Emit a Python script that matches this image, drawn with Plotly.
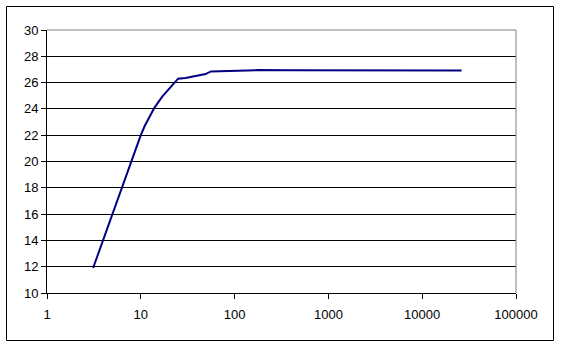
import plotly.graph_objects as go

x_vals = [3.1, 4, 5, 6, 7, 8, 9, 10, 11, 12, 14, 17, 21, 25, 30, 35, 42, 49, 56, 70, 90,
          180, 400, 1000, 2000, 3000, 5000, 8000, 12000, 18000, 26300]
y_vals = [11.9, 14.1, 16.1, 17.7, 19.0, 20.2, 21.2, 22.0, 22.7, 23.25, 24.1, 24.95, 25.7, 26.3,
          26.35, 26.45, 26.55, 26.65, 26.85, 26.88, 26.9, 26.95, 26.93, 26.93, 26.95, 26.96,
          26.97, 26.95, 26.97, 26.95, 26.92]
x_ticks = [1, 10, 100, 1000, 10000, 100000]
x_tick_text = ["1", "10", "100", "1000", "10000", "100000"]
y_ticks = [10, 12, 14, 16, 18, 20, 22, 24, 26, 28, 30]

W, H = 561, 347
L, R, T, B = 47, 45, 30, 54
pw, ph = W - L - R, H - T - B

def px(xpix):
    return (xpix - L) / pw

def py(ypix):
    return (H - B - ypix) / ph

fig = go.Figure()
fig.add_trace(go.Scatter(x=x_vals, y=y_vals, mode="lines",
                         line=dict(color="#000080", width=2), hoverinfo="skip"))

font = dict(family="Liberation Sans, Arial, sans-serif", size=13, color="black")

fig.update_layout(
    width=W, height=H,
    margin=dict(l=L, r=R, t=T, b=B, pad=0),
    paper_bgcolor="white", plot_bgcolor="white",
    showlegend=False,
    font=font,
    xaxis=dict(type="log", range=[0, 5], tickvals=x_ticks, ticktext=x_tick_text,
               showgrid=False, zeroline=False, showline=True, linecolor="black", linewidth=1,
               ticks="outside", ticklen=5, tickcolor="black", tickfont=font,
               ticklabelstandoff=4),
    yaxis=dict(range=[10, 30], tickvals=y_ticks, showgrid=True, gridcolor="black", gridwidth=1,
               zeroline=False, showline=True, linecolor="black", linewidth=1,
               ticks="outside", ticklen=5, tickcolor="black", tickfont=font),
    shapes=[
        # outer chart border
        dict(type="rect", xref="paper", yref="paper",
             x0=px(6.5), x1=px(553.5), y0=py(340.5), y1=py(6.5),
             line=dict(color="black", width=1), layer="below"),
        # plot area top and right border (gray)
        dict(type="line", xref="paper", yref="paper", x0=0, x1=1, y0=1, y1=1,
             line=dict(color="#808080", width=1), layer="above"),
        dict(type="line", xref="paper", yref="paper", x0=1, x1=1, y0=0, y1=1,
             line=dict(color="#808080", width=1), layer="above"),
    ],
)

fig.write_html("out.html")
